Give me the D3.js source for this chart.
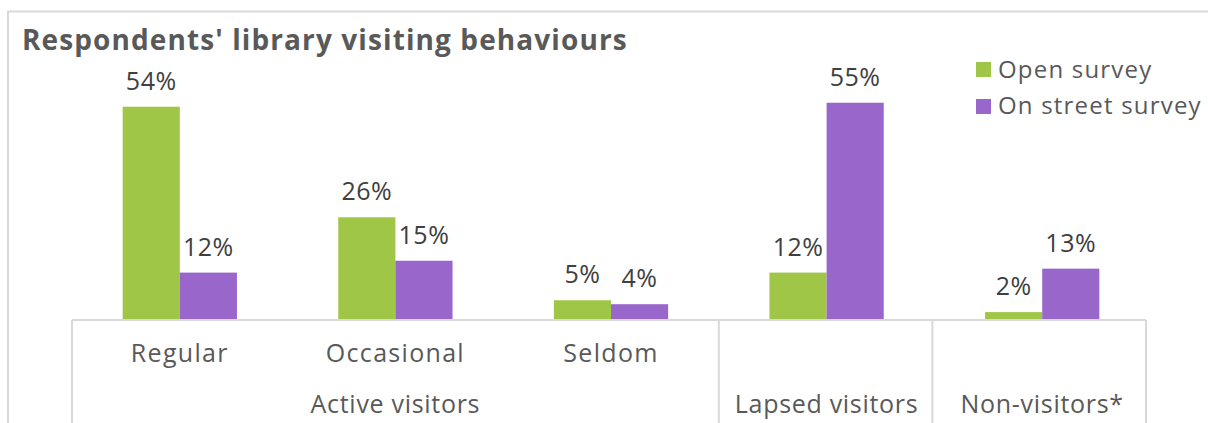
<!DOCTYPE html>
<html>
<head>
<meta charset="utf-8">
<script src="https://cdn.jsdelivr.net/npm/d3@7"></script>
<style>
  html, body { margin: 0; padding: 0; background: #fff; }
  svg { display: block; }
  text { font-family: "Open Sans", "Noto Sans", sans-serif; }
</style>
</head>
<body>
<svg id="chart" width="1208" height="423"></svg>
<script>
// Visiting categories and their parent groups
const categories = ["Regular", "Occasional", "Seldom", "Lapsed", "Non"];
const categoryLabels = ["Regular", "Occasional", "Seldom", "", ""];
const groupLabels = ["Active visitors", "Lapsed visitors", "Non-visitors*"];
const groupSpans = [[0, 2], [3, 3], [4, 4]];

// Series (percent of respondents)
const seriesNames = ["Open survey", "On street survey"];
const openSurvey = [54, 26, 5, 12, 2];
const onStreetSurvey = [12, 15, 4, 55, 13];
const seriesColors = ["#9fc646", "#9966cc"];

const svg = d3.select("#chart");
const W = 1208, H = 423;
const baseY = 320;
const plotLeft = 72, plotRight = 1150;

// Outer chart frame (top and left edges visible)
svg.append("path")
  .attr("d", `M8,${H} L8,11.5 L${W},11.5`)
  .attr("fill", "none").attr("stroke", "#d9d9d9").attr("stroke-width", 2);

// Title
svg.append("text")
  .attr("x", 22).attr("y", 50)
  .attr("font-size", 28).attr("font-weight", "bold")
  .attr("letter-spacing", 1.1)
  .attr("fill", "#595959")
  .text("Respondents' library visiting behaviours");

const x = d3.scaleBand().domain(categories).range([plotLeft, plotRight]).padding(0);
// the bar pair takes the middle ~53% of each category band
const xs = d3.scaleBand().domain(seriesNames)
  .range([x.bandwidth() * 0.235, x.bandwidth() * 0.765]).padding(0);

const y = d3.scaleLinear().domain([0, 60]).range([baseY, baseY - 60 * 3.95]);

const data = categories.map((c, i) => ({
  cat: c,
  values: [openSurvey[i], onStreetSurvey[i]]
}));

const groups = svg.append("g").selectAll("g.cat").data(data).join("g")
  .attr("class", "cat")
  .attr("transform", d => `translate(${x(d.cat)},0)`);

groups.selectAll("rect").data(d => d.values.map((v, k) => ({ v, k })))
  .join("rect")
  .attr("x", d => xs(seriesNames[d.k]))
  .attr("width", xs.bandwidth())
  .attr("y", d => y(d.v))
  .attr("height", d => baseY - y(d.v))
  .attr("fill", d => seriesColors[d.k]);

groups.selectAll("text.val").data(d => d.values.map((v, k) => ({ v, k })))
  .join("text")
  .attr("class", "val")
  .attr("x", d => xs(seriesNames[d.k]) + xs.bandwidth() / 2)
  .attr("y", d => y(d.v) - 17)
  .attr("text-anchor", "middle")
  .attr("font-size", 25)
  .attr("letter-spacing", 0.5)
  .attr("fill", "#404040")
  .text(d => d.v + "%");

// Category axis with grouped labels
const axisColor = "#d9d9d9";
const axisRight = x(categories[4]) + x.bandwidth() - 4;
svg.append("line")
  .attr("x1", plotLeft).attr("x2", axisRight)
  .attr("y1", baseY).attr("y2", baseY)
  .attr("stroke", axisColor).attr("stroke-width", 2);

const dividers = [plotLeft, x(categories[3]), x(categories[4]) - 2, axisRight];
svg.selectAll("line.div").data(dividers).join("line")
  .attr("class", "div")
  .attr("x1", d => d).attr("x2", d => d)
  .attr("y1", baseY).attr("y2", H)
  .attr("stroke", axisColor).attr("stroke-width", 2);

svg.selectAll("text.cat").data(categories).join("text")
  .attr("class", "cat")
  .attr("x", d => x(d) + x.bandwidth() / 2)
  .attr("y", 362)
  .attr("text-anchor", "middle")
  .attr("font-size", 25)
  .attr("letter-spacing", 1.3)
  .attr("fill", "#595959")
  .text((d, i) => categoryLabels[i]);

svg.selectAll("text.grp").data(groupLabels).join("text")
  .attr("class", "grp")
  .attr("x", (d, i) => {
    const [a, b] = groupSpans[i];
    return (x(categories[a]) + x(categories[b]) + x.bandwidth()) / 2;
  })
  .attr("y", 413)
  .attr("text-anchor", "middle")
  .attr("font-size", 25)
  .attr("letter-spacing", 0.7)
  .attr("fill", "#595959")
  .text(d => d);

// Legend
const legend = svg.append("g").attr("transform", "translate(976,0)");
seriesNames.forEach((name, i) => {
  legend.append("rect")
    .attr("x", 0).attr("y", 62 + i * 37)
    .attr("width", 15).attr("height", 15)
    .attr("fill", seriesColors[i]);
  legend.append("text")
    .attr("x", 22).attr("y", 78 + i * 36)
    .attr("font-size", 24)
    .attr("letter-spacing", 1.2)
    .attr("fill", "#595959")
    .text(name);
});
</script>
</body>
</html>
